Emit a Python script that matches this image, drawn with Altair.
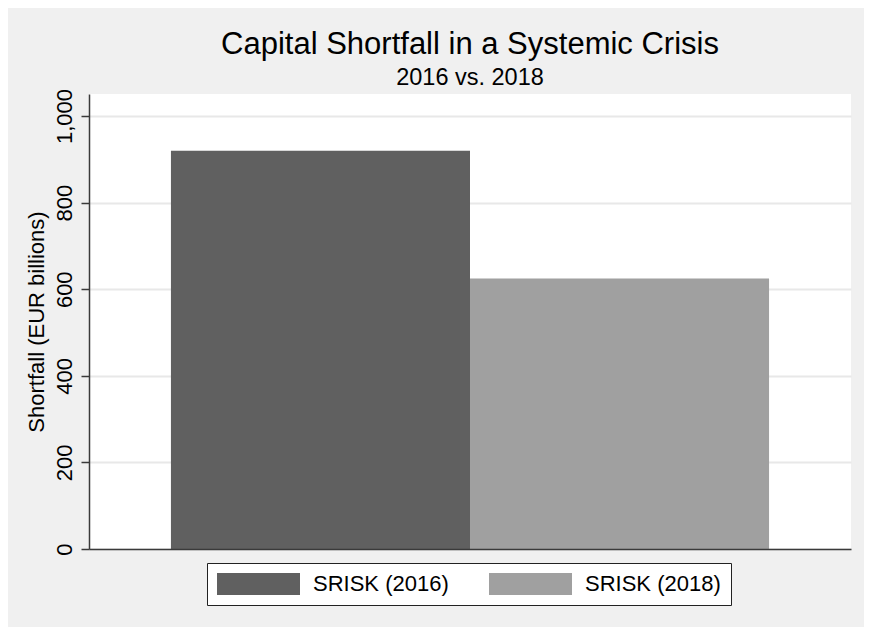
import altair as alt
import pandas as pd

series = ["SRISK (2016)", "SRISK (2018)"]
values = [920, 625]
colors = ["#606060", "#a0a0a0"]
y_ticks = [0, 200, 400, 600, 800, 1000]

df = pd.DataFrame({"series": series, "value": values})

FONT = "Liberation Sans"

chart = alt.Chart(df).mark_bar().encode(
    x=alt.X("series:N", sort=series,
            scale=alt.Scale(paddingInner=0, paddingOuter=0.274),
            axis=alt.Axis(title=None, labels=False, ticks=False, domain=True,
                          domainColor="#3a3a3a", domainWidth=1.5, grid=False, zindex=1)),
    y=alt.Y("value:Q", scale=alt.Scale(domain=[0, 1051], nice=False, zero=True),
            axis=alt.Axis(title="Shortfall (EUR billions)", values=y_ticks, format=",d",
                          labelAngle=-90, labelAlign="center", labelBaseline="alphabetic",
                          labelPadding=10, tickSize=8, tickColor="#3a3a3a", tickWidth=1.5,
                          domainColor="#3a3a3a", domainWidth=1.5,
                          labelFontSize=22, labelFont=FONT, labelColor="#000000",
                          titleFontSize=22, titleFont=FONT, titleFontWeight="normal",
                          titleColor="#000000", titleAngle=-90, titleX=-46, titleY=227.5,
                          titleBaseline="alphabetic", titleAlign="center",
                          grid=True, gridColor="#e8e8e8", gridWidth=2, labelOverlap=False)),
    color=alt.Color("series:N", sort=series,
                    scale=alt.Scale(domain=series, range=colors),
                    legend=alt.Legend(title=None, orient="none", legendX=118, legendY=469,
                                      direction="horizontal", columns=2,
                                      symbolType="M-1,-0.265H1V0.265H-1Z", symbolSize=6889,
                                      symbolStrokeWidth=0, clipHeight=22,
                                      labelFontSize=22, labelFont=FONT, labelColor="#000000",
                                      labelOffset=13, columnPadding=40, padding=10,
                                      fillColor="#ffffff", strokeColor="#222222",
                                      labelLimit=400)),
).properties(
    width=762,
    height=455,
    autosize=alt.AutoSizeParams(type="none"),
    padding={"left": 81, "top": 86, "right": 13, "bottom": 78},
    background="#f0f0f0",
    title=alt.TitleParams(text="Capital Shortfall in a Systemic Crisis",
                          subtitle="2016 vs. 2018",
                          fontSize=31, subtitleFontSize=23.5, font=FONT, subtitleFont=FONT,
                          fontWeight="normal", color="#000000", subtitleColor="#000000",
                          anchor="middle", subtitlePadding=5, offset=-2),
).configure_view(fill="#ffffff", stroke=None)

chart.save("out.html", embed_options={"renderer": "svg", "actions": False})
